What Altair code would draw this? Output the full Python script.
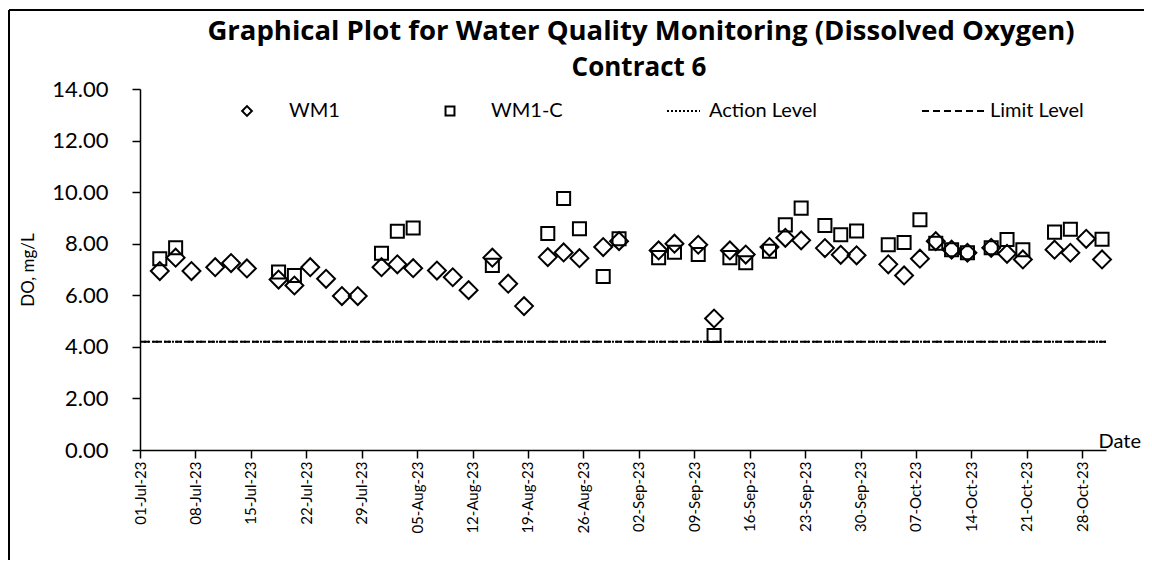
import altair as alt
import pandas as pd

TITLE_LINES = ["Graphical Plot for Water Quality Monitoring (Dissolved Oxygen)", "Contract 6"]

WM1_DATES = [
    "2023-07-03", "2023-07-05", "2023-07-07", "2023-07-10", "2023-07-12", "2023-07-14",
    "2023-07-18", "2023-07-20", "2023-07-22", "2023-07-24", "2023-07-26", "2023-07-28",
    "2023-07-31", "2023-08-02", "2023-08-04", "2023-08-07", "2023-08-09", "2023-08-11",
    "2023-08-14", "2023-08-16", "2023-08-18", "2023-08-21", "2023-08-23", "2023-08-25",
    "2023-08-28", "2023-08-30", "2023-09-04", "2023-09-06", "2023-09-09", "2023-09-11",
    "2023-09-13", "2023-09-15", "2023-09-18", "2023-09-20", "2023-09-22", "2023-09-25",
    "2023-09-27", "2023-09-29", "2023-10-03", "2023-10-05", "2023-10-07", "2023-10-09",
    "2023-10-11", "2023-10-13", "2023-10-16", "2023-10-18", "2023-10-20", "2023-10-24",
    "2023-10-26", "2023-10-28", "2023-10-30",
]
WM1_VALUES = [
    6.94, 7.46, 6.94, 7.09, 7.25, 7.04,
    6.61, 6.38, 7.09, 6.64, 5.97, 5.97,
    7.09, 7.20, 7.05, 6.96, 6.70, 6.20,
    7.46, 6.45, 5.58, 7.48, 7.66, 7.44,
    7.87, 8.10, 7.74, 8.00, 7.96, 5.10,
    7.74, 7.58, 7.87, 8.23, 8.13, 7.83,
    7.57, 7.55, 7.20, 6.77, 7.42, 8.10,
    7.77, 7.65, 7.84, 7.61, 7.39, 7.77,
    7.65, 8.19, 7.39,
]

WM1C_DATES = [
    "2023-07-03", "2023-07-05", "2023-07-18", "2023-07-20", "2023-07-31", "2023-08-02",
    "2023-08-04", "2023-08-14", "2023-08-21", "2023-08-23", "2023-08-25", "2023-08-28",
    "2023-08-30", "2023-09-04", "2023-09-06", "2023-09-09", "2023-09-11", "2023-09-13",
    "2023-09-15", "2023-09-18", "2023-09-20", "2023-09-22", "2023-09-25", "2023-09-27",
    "2023-09-29", "2023-10-03", "2023-10-05", "2023-10-07", "2023-10-09", "2023-10-11",
    "2023-10-13", "2023-10-16", "2023-10-18", "2023-10-20", "2023-10-24", "2023-10-26",
    "2023-10-30",
]
WM1C_VALUES = [
    7.42, 7.84, 6.90, 6.77, 7.63, 8.48,
    8.61, 7.16, 8.40, 9.75, 8.58, 6.73,
    8.19, 7.46, 7.67, 7.58, 4.44, 7.46,
    7.26, 7.71, 8.73, 9.38, 8.71, 8.35,
    8.49, 7.96, 8.05, 8.93, 8.02, 7.77,
    7.65, 7.84, 8.16, 7.77, 8.45, 8.56,
    8.17,
]

LEVEL_NAMES = ["Action Level", "Limit Level"]
LEVEL_VALUES = [4.2, 4.2]

TICK_DATES = [
    "2023-07-01", "2023-07-08", "2023-07-15", "2023-07-22", "2023-07-29", "2023-08-05",
    "2023-08-12", "2023-08-19", "2023-08-26", "2023-09-02", "2023-09-09", "2023-09-16",
    "2023-09-23", "2023-09-30", "2023-10-07", "2023-10-14", "2023-10-21", "2023-10-28",
]
X_DOMAIN = ["2023-07-01", "2023-10-31"]
Y_TICKS = [0, 2, 4, 6, 8, 10, 12, 14]

SERIES = ["WM1", "WM1-C"]

FONT = "Lato"
TITLE_FONT = "Open Sans"

pts = pd.DataFrame({
    "date": WM1_DATES + WM1C_DATES,
    "value": WM1_VALUES + WM1C_VALUES,
    "series": [SERIES[0]] * len(WM1_DATES) + [SERIES[1]] * len(WM1C_DATES),
})
levels = pd.DataFrame({"level": LEVEL_NAMES, "value": LEVEL_VALUES})

def ms(d):
    return int(pd.Timestamp(d, tz="UTC").value // 10**6)

tick_ms = [ms(d) for d in TICK_DATES]
dom_ms = [ms(d) for d in X_DOMAIN]

W, H = 966, 361

x_enc = alt.X(
    "t:T",
    scale=alt.Scale(type="utc", domain=dom_ms, nice=False),
    axis=alt.Axis(
        values=tick_ms, labelExpr="utcFormat(datum.value, '%d-%b-%y')", labelAngle=270,
        labelFontSize=15, labelFont=FONT, labelColor="black", labelPadding=3,
        tickSize=8, tickColor="black", domainColor="black", domainWidth=1.5, tickWidth=1.5,
        grid=False, labelOverlap=False, labelFlush=False,
        title="Date", titleFont=FONT, titleFontSize=20, titleFontWeight="normal",
        titleColor="black", titleX=958, titleY=-3, titleAlign="left",
        titleBaseline="alphabetic", titleAngle=0,
    ),
)
y_enc = alt.Y(
    "value:Q",
    scale=alt.Scale(domain=[0, 14], nice=False, zero=True),
    axis=alt.Axis(
        values=Y_TICKS, format=".2f", labelFontSize=22, labelFont=FONT, labelColor="black",
        labelPadding=24, tickSize=8, tickColor="black", tickWidth=1.5,
        domainColor="black", domainWidth=1.5, grid=False,
        title="DO, mg/L", titleFont=FONT, titleFontSize=17, titleFontWeight="normal",
        titleColor="black", titleX=-112, titleY=H / 2, titleAngle=270,
        titleAlign="center", titleBaseline="middle",
    ),
)

points = alt.Chart(pts).transform_calculate(
    t="time(datum.date) + 43200000"
).mark_point(filled=False, color="black", strokeWidth=2, opacity=1).encode(
    x=x_enc,
    y=y_enc,
    shape=alt.Shape("series:N", scale=alt.Scale(domain=SERIES, range=["diamond", "square"]), legend=None),
    size=alt.Size("series:N", scale=alt.Scale(domain=SERIES, range=[320, 170]), legend=None),
)

rules = alt.Chart(levels).mark_rule(color="black", strokeWidth=2).encode(
    y=alt.Y("value:Q"),
    strokeDash=alt.StrokeDash("level:N", scale=alt.Scale(domain=LEVEL_NAMES, range=[[2, 2], [7, 4]]), legend=None),
)

def one(label):
    return alt.Chart(pd.DataFrame({"label": [label]}))

LEG_Y = 22
legend_layers = [
    one(SERIES[0]).mark_point(shape="diamond", size=95, filled=False, color="black", strokeWidth=2, opacity=1)
        .encode(x=alt.value(107), y=alt.value(LEG_Y)),
    one(SERIES[1]).mark_point(shape="square", size=80, filled=False, color="black", strokeWidth=2, opacity=1)
        .encode(x=alt.value(310), y=alt.value(LEG_Y)),
    one(LEVEL_NAMES[0]).mark_rule(color="black", strokeWidth=2, strokeDash=[2, 2])
        .encode(x=alt.value(527), x2=alt.value(560), y=alt.value(LEG_Y)),
    one(LEVEL_NAMES[1]).mark_rule(color="black", strokeWidth=2, strokeDash=[7, 4])
        .encode(x=alt.value(782), x2=alt.value(845), y=alt.value(LEG_Y)),
]
for lbl, xpos in zip(SERIES + LEVEL_NAMES, [149, 351, 569, 850]):
    legend_layers.append(
        one(lbl).mark_text(align="left", baseline="middle", font=FONT, fontSize=20, color="black")
        .encode(x=alt.value(xpos), y=alt.value(LEG_Y), text="label:N")
    )

title_layers = [
    one(TITLE_LINES[0]).mark_text(align="center", baseline="middle", font=TITLE_FONT, fontSize=27.5,
                                  fontWeight="bold", color="black")
        .encode(x=alt.value(501), y=alt.value(-57), text="label:N"),
    one(TITLE_LINES[1]).mark_text(align="center", baseline="middle", font=TITLE_FONT, fontSize=26,
                                  fontWeight="bold", color="black")
        .encode(x=alt.value(499), y=alt.value(-21), text="label:N"),
]

frame = [
    one("frame").mark_rule(color="black", strokeWidth=2)
        .encode(x=alt.value(-131), x2=alt.value(W + 40), y=alt.value(-79)),
    one("frame").mark_rule(color="black", strokeWidth=2)
        .encode(x=alt.value(-131), y=alt.value(-79), y2=alt.value(H + 112)),
]

chart = alt.layer(rules, points, *legend_layers, *title_layers, *frame).properties(
    width=W, height=H,
    padding={"left": 132, "top": 81, "right": 38, "bottom": 110},
    autosize=alt.AutoSizeParams(type="none"),
    background="white",
).configure_view(stroke=None)

chart.save("out.html", embed_options={"renderer": "svg", "actions": False})
